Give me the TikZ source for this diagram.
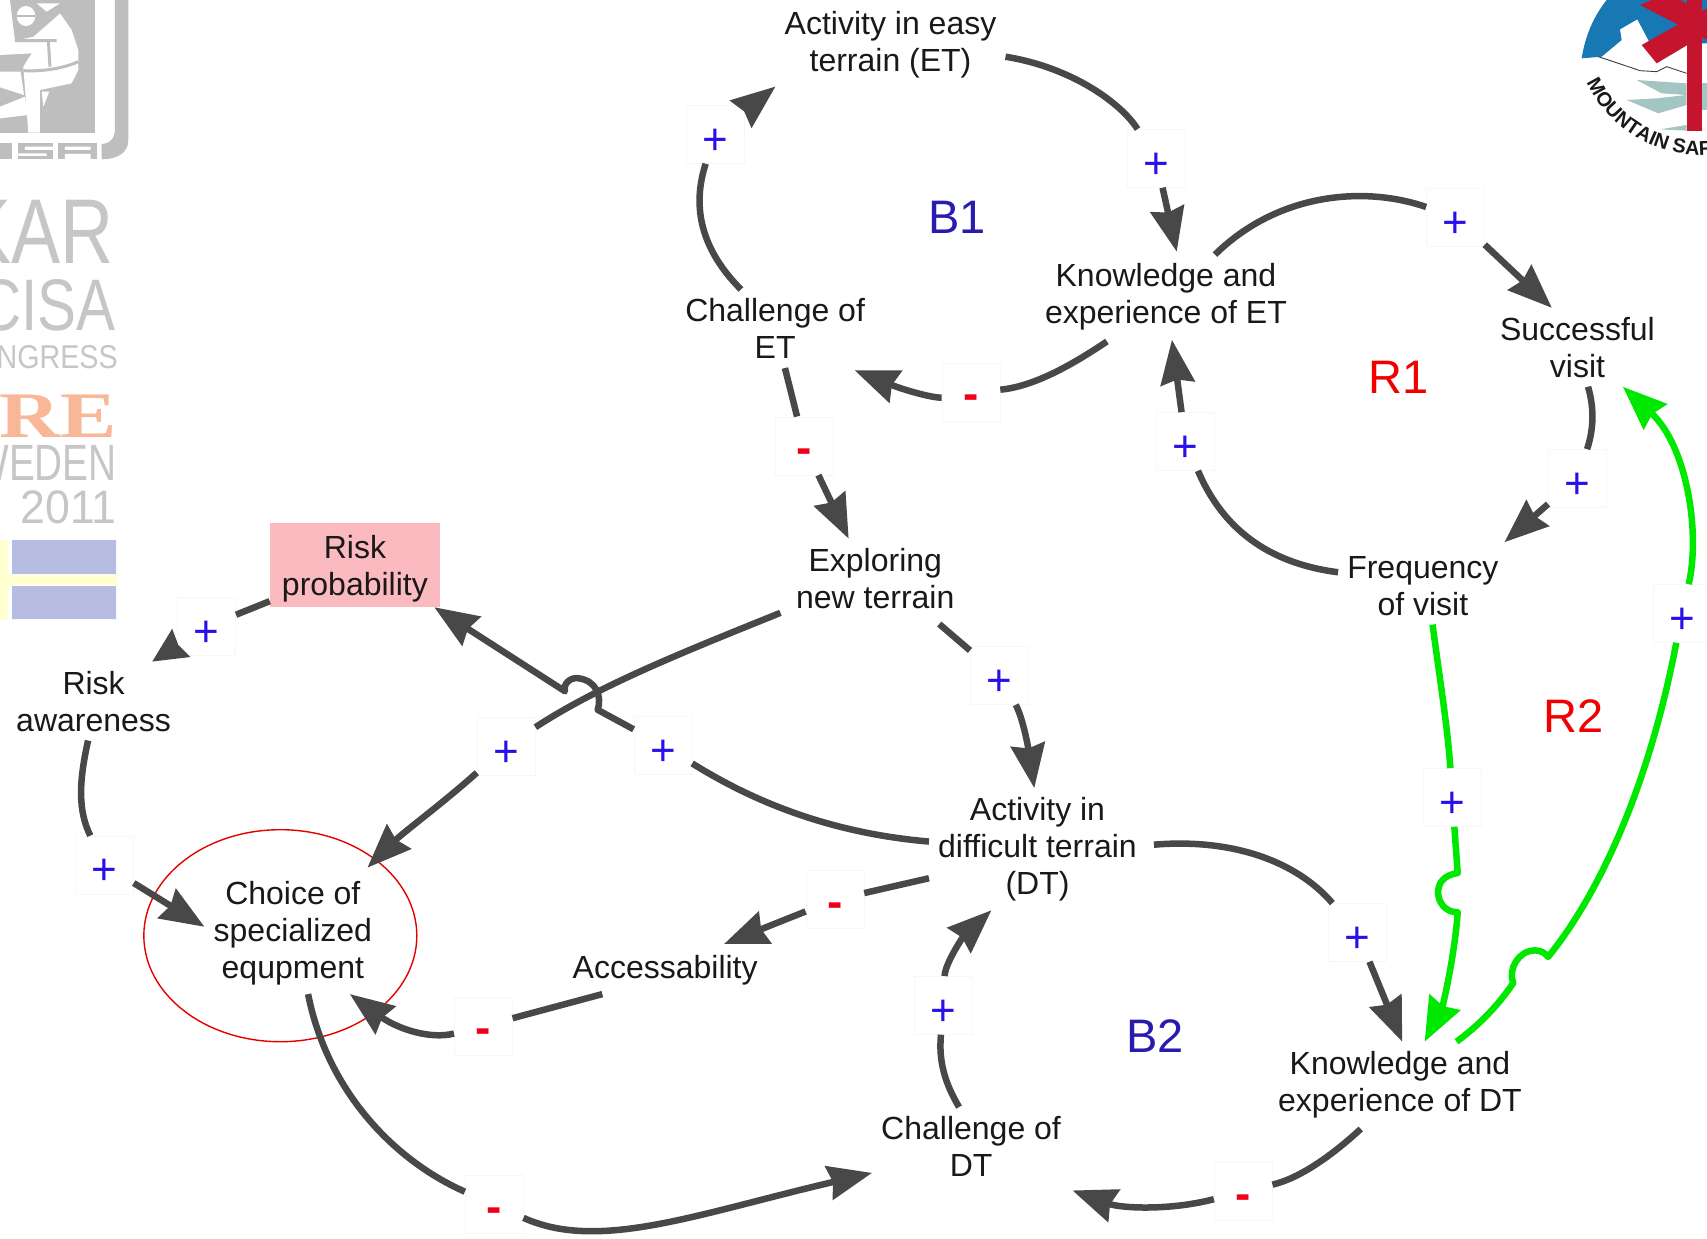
\documentclass[tikz,border=0pt]{standalone}
\usepackage{graphicx}
\usepackage{fontspec}
\setmainfont{Liberation Sans}
\newfontfamily\logoserif{Liberation Serif}
\usetikzlibrary{arrows.meta,shapes.geometric,decorations.text}
\definecolor{linkgray}{HTML}{484848}
\definecolor{loopgreen}{HTML}{00E800}
\definecolor{signblue}{HTML}{2A10E8}
\definecolor{signred}{HTML}{F00018}
\definecolor{loopblue}{HTML}{2A1BB0}
\definecolor{riskpink}{HTML}{FBB9C0}
\definecolor{logogray}{HTML}{BEBEBE}
\definecolor{logotext}{HTML}{C6C6C6}
\definecolor{logoorange}{HTML}{F8B898}
\definecolor{flagblue}{HTML}{B7BCE2}
\definecolor{flagyellow}{HTML}{FFFFD0}
\definecolor{msblue}{HTML}{1878B4}
\definecolor{msred}{HTML}{C4142E}
\definecolor{msteal}{HTML}{A3C6C2}
\tikzset{
  lbl/.style={align=center,inner sep=9pt,text=black!90,font=\fontsize{32pt}{37pt}\selectfont},
  signbox/.style={minimum size=58pt,inner sep=0pt,fill=white,draw=black!3,line width=.6pt,yshift=4.9pt,xshift=1pt},
  plus/.style={signbox,text=signblue,font=\fontsize{44pt}{44pt}\selectfont,text height=39.8pt,text depth=0pt},
  minus/.style={signbox,text=signred,font=\fontsize{46pt}{46pt}\selectfont\bfseries,text height=35pt,text depth=0pt},
  link/.style={line width=6.5pt,draw=linkgray,line join=round},
  arrow/.style={link,-{Stealth[length=44pt,width=34pt,inset=4pt]}},
  glink/.style={line width=6.5pt,draw=loopgreen,line join=round},
  garrow/.style={glink,-{Stealth[length=44pt,width=34pt,inset=4pt]}},
  loopb/.style={text=loopblue,font=\fontsize{47pt}{47pt}\selectfont},
  loopr/.style={text=red!95!black,font=\fontsize{47pt}{47pt}\selectfont},
  logotxt/.style={anchor=base east,inner sep=0pt,text=logotext},
}
\begin{document}
\begin{tikzpicture}[x=1.08865pt,y=-1.08865pt]
\useasboundingbox (0,0) rectangle (1568,1138);
\fill[white] (0,0) rectangle (1568,1138);
% ---------- left logos
\begin{scope}
\clip (0,0) rectangle (1568,1138);
\begin{scope}[x=.33333pt,y=-.33333pt]
  \fill[logogray] (0,0) rectangle (285,398);
  \fill[white] (0,0) -- (180,0) -- (180,40) -- (215,90) -- (235,150) -- (235,210) -- (215,250) -- (120,270) -- (120,398) -- (85,398) -- (70,200) -- (95,160) -- (0,165) -- cycle;
  \fill[white] (0,215) -- (62,215) -- (72,285) -- (0,262) -- cycle;
  \fill[white] (0,320) -- (75,290) -- (85,345) -- (0,355) -- cycle;
  \fill[logogray] (30,0) -- (180,0) -- (180,40) -- (100,110) -- (45,122) -- cycle;
  \fill[white] (125,275) -- (148,275) -- (130,320) -- cycle;
  \fill[white] (78,48) ellipse [x radius=28,y radius=30];
  \fill[logogray] (48,44) rectangle (105,52);
  \fill[white] (110,10) -- (180,10) -- (140,35) -- cycle;
  \draw[logogray,line width=3pt] (45,122) -- (170,122) (145,122) -- (150,200);
  \draw[logogray,line width=3pt] (70,212) .. controls (130,215) and (190,205) .. (235,185);
  \fill[logogray] (345,0) -- (385,0) -- (385,420) .. controls (385,460) and (350,478) .. (305,478) -- (305,432) .. controls (335,430) and (345,410) .. (345,385) -- cycle;
  \fill[logogray] (0,428) rectangle (35,478);
  \fill[logogray] (55,428) rectangle (160,478);
  \fill[white] (75,440) rectangle (160,450) (55,460) rectangle (140,468);
  \fill[logogray] (175,428) rectangle (290,478);
  \fill[white] (195,440) rectangle (272,450) (195,462) rectangle (272,478);
\end{scope}
\begin{scope}[x=1pt,y=-1pt]
  \node[logotxt,font=\fontsize{92pt}{92pt}\selectfont] (logoa) at (114,263) {\scalebox{.8}[1]{KAR}};
  \node[logotxt,font=\fontsize{73pt}{73pt}\selectfont] (logob) at (116,330) {\scalebox{.8}[1]{CISA}};
  \node[logotxt,font=\fontsize{33pt}{33pt}\selectfont] (logoc) at (118,368) {\scalebox{.87}[1]{CONGRESS}};
  \node[logotxt,text=logoorange,font=\fontsize{65pt}{65pt}\selectfont\logoserif\bfseries] (logod) at (117,437) {\scalebox{1.3}[1]{RE}};
  \node[logotxt,font=\fontsize{51pt}{51pt}\selectfont] (logoe) at (117,480) {\scalebox{.76}[1]{SWEDEN}};
  \node[logotxt,font=\fontsize{47pt}{47pt}\selectfont] (logof) at (117,523) {\scalebox{.95}[1]{2011}};
  \fill[flagyellow] (0,540) rectangle (8,620) (0,575) rectangle (117,585);
  \fill[flagblue] (12,540) rectangle (116,574) (12,586) rectangle (116,619);
\end{scope}
% ---------- right logo
\begin{scope}[x=.33333pt,y=-.33333pt,xshift=1540pt]
  \fill[msblue] (200,0) .. controls (160,50) and (135,110) .. (125,175) -- (185,170) -- (245,120) -- (240,88) -- (292,58) -- (330,130) -- (501,130) -- (501,0) -- cycle;
  \fill[msteal] (290,240) -- (440,250) -- (440,285) -- (365,280) -- cycle;
  \fill[msteal] (260,300) -- (350,295) -- (440,285) -- (440,315) -- (355,340) -- cycle;
  \fill[msteal] (360,388) -- (440,375) -- (440,392) -- cycle;
  \fill[msteal] (485,250) -- (501,250) -- (501,330) -- (485,330) -- cycle;
  \draw[black!75,line width=.9pt] (175,170) -- (250,195) -- (300,212) -- (350,215) -- (380,200) -- (440,220);
  \fill[msred] (440,0) rectangle (485,392);
  \fill[msred] (305,135) -- (501,25) -- (501,100) -- (350,190) -- cycle;
  \fill[msred] (300,15) -- (420,77) -- (501,120) -- (501,42) -- (421,0) -- (335,0) -- cycle;
  \path[decorate,decoration={text along path,text color=black!90,
     text={|\fontsize{20pt}{20pt}\selectfont\bfseries|MOUNTAIN SAFETY}}]
     (140,248) .. controls (227.5,435.6) and (450.4,517.5) .. (638,430);
\end{scope}
\end{scope}
% ---------- nodes
\node[lbl] (et) at (818,41) {Activity in easy\\terrain (ET)};
\node[lbl] (ket) at (1071,273) {Knowledge and\\experience of ET};
\node[lbl] (cet) at (712,302) {Challenge of\\ET};
\node[lbl] (sv) at (1449,319) {Successful\\visit};
\node[lbl] (fv) at (1307,538) {Frequency\\of visit};
\node[lbl] (ent) at (804,531) {Exploring\\new terrain};
\node[fill=riskpink,inner sep=0pt,minimum width=170pt,minimum height=84pt] (rp) at (326,519) {};
\node[lbl] (rptext) at (326,522) {Risk\\probability};
\node[lbl] (ra) at (86,644) {Risk\\awareness};
\node[lbl] (dt) at (953,780) {Activity in\\difficult terrain\\(DT)};
\node[lbl] (cse) at (269,857) {Choice of\\specialized\\equpment};
\node[lbl] (acc) at (611,891) {Accessability};
\node[lbl] (kdt) at (1286,996) {Knowledge and\\experience of DT};
\node[lbl] (cdt) at (892,1053) {Challenge of\\DT};
\node[loopb] (b1) at (879,200) {B1};
\node[loopb] (b2) at (1061,952) {B2};
\node[loopr] (r1) at (1285,347) {R1};
\node[loopr] (r2) at (1445,658) {R2};
\node[draw=red!90!black,line width=1.4pt,ellipse,inner sep=0pt,minimum width=273pt,minimum height=212pt] (focus) at (257.5,859.5) {};
% ---------- signs
\node[plus] (sa) at (656,128) {+};
\node[plus] (sb) at (1061,150) {+};
\node[plus] (sc) at (1336,204) {+};
\node[minus] (sd) at (891,365) {-};
\node[plus] (se) at (1448,444) {+};
\node[plus] (sf) at (1088,410) {+};
\node[minus] (sg) at (738,414) {-};
\node[plus] (sh) at (917,625) {+};
\node[plus] (si) at (464,690) {+};
\node[plus] (sj) at (608,689) {+};
\node[plus] (sk) at (189,580) {+};
\node[plus] (sl) at (95,799) {+};
\node[minus] (sm) at (766,831) {-};
\node[minus] (sn) at (443,947) {-};
\node[minus] (so) at (453,1111) {-};
\node[plus] (sp) at (1246,861) {+};
\node[minus] (sq) at (1141,1099) {-};
\node[plus] (sr) at (866,928) {+};
\node[plus] (st) at (1333,737) {+};
\node[plus] (su) at (1544,568) {+};
% ---------- connectors
\draw[link] (cet.131) .. controls (640,225) and (637,185) .. (sa);
\draw[arrow] (sa) -- (et.200);
\draw[link] (et.-6) .. controls (985,62) and (1030,95) .. (sb);
\draw[arrow,shorten >=3pt] (sb) -- (ket.75);
\draw[link] (ket.41) .. controls (1175,176) and (1255,171) .. (sc);
\draw[arrow] (sc) -- (sv.123);
\draw[link,shorten <=3pt] (ket.217) .. controls (985,335) and (950,355) .. (sd);
\draw[arrow,shorten >=6pt] (sd) .. controls (860,366) and (835,360) .. (cet.-28);
\draw[link] (sv.-75) .. controls (1466,380) and (1462,400) .. (se);
\draw[arrow,shorten >=7pt] (se) -- (fv.27);
\draw[link] (fv.171) .. controls (1170,518) and (1125,490) .. (sf);
\draw[arrow] (sf) -- (ket.-82);
\draw[link] (cet.-76) -- (sg);
\draw[arrow] (sg) -- (ent.124);
\draw[link,shorten <=10pt] (ent.-35) -- (sh);
\draw[arrow] (sh) .. controls (940,660) and (945,690) .. (dt.93);
\draw[link,shorten <=7pt] (ent.200) .. controls (625,600) and (550,630) .. (si);
\draw[arrow,shorten >=6pt] (si) .. controls (410,735) and (370,765) .. (cse.41);
\draw[link] (dt.176) .. controls (760,765) and (690,735) .. (sj);
\draw[arrow] (sj) -- (549,652) .. controls (553,640) and (548,625) .. (531,623) .. controls (524,622) and (517,628) .. (519,635) -- (rp.-28);
\draw[link] (rp.203) -- (sk);
\draw[link,-{Stealth[length=34pt,width=32pt,inset=3pt]}] (sk) -- (ra.34);
\draw[link] (ra.-98) .. controls (72,720) and (72,745) .. (sl);
\draw[arrow] (sl) -- (cse.176);
\draw[link] (dt.195) -- (sm);
\draw[arrow,shorten >=5pt] (sm) -- (acc.24);
\draw[link] (acc.201) -- (sn);
\draw[arrow] (sn) .. controls (395,955) and (365,945) .. (cse.-47);
\draw[link] (cse.-76) .. controls (300,1000) and (360,1065) .. (so);
\draw[arrow] (so) .. controls (550,1150) and (640,1115) .. (cdt.195);
\draw[link,shorten <=8pt] (dt.2) .. controls (1130,770) and (1190,790) .. (sp);
\draw[arrow] (sp) -- (kdt.87);
\draw[link,shorten <=3pt] (kdt.229) .. controls (1225,1060) and (1195,1082) .. (sq);
\draw[arrow,shorten >=14pt] (sq) .. controls (1075,1112) and (1030,1110) .. (cdt.-24);
\draw[link] (cdt.107) .. controls (868,995) and (862,975) .. (sr);
\draw[arrow] (sr) .. controls (868,885) and (885,860) .. (dt.233);
\draw[glink] (fv.-76) .. controls (1322,620) and (1330,670) .. (st);
\draw[garrow] (st) -- (1339,802) .. controls (1325,804) and (1321,812) .. (1321,820) .. controls (1321,828) and (1327,838) .. (1339,838) .. controls (1336,880) and (1325,925) .. (kdt.60);
\draw[glink] (kdt.37) .. controls (1358,942) and (1375,925) .. (1390,903) .. controls (1385,890) and (1395,873) .. (1410,873) .. controls (1416,873) and (1420,876) .. (1422,879) .. controls (1470,820) and (1515,720) .. (su);
\draw[garrow] (su) .. controls (1562,490) and (1550,410) .. (sv.-41);
\end{tikzpicture}
\end{document}
